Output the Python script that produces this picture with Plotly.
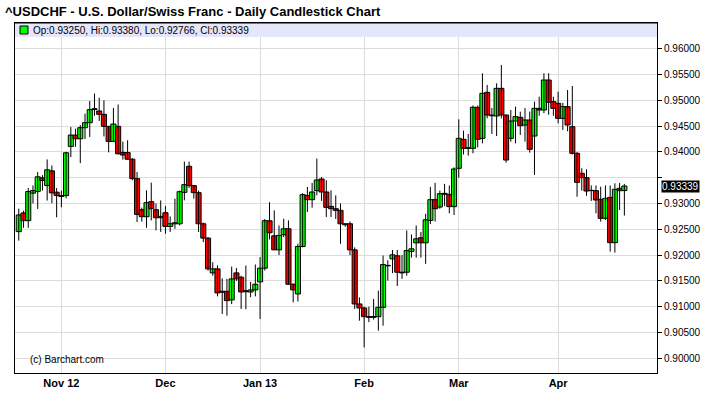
import plotly.graph_objects as go

# ---- data ----
opens = [0.92455, 0.92817, 0.92668, 0.93200, 0.93232, 0.93497, 0.93348, 0.93633, 0.93219, 0.93135,
         0.93154, 0.94106, 0.94326, 0.94255, 0.94469, 0.94566, 0.94819, 0.94793, 0.94728, 0.94495,
         0.94203, 0.94495, 0.93990, 0.93987, 0.93858, 0.93482, 0.92880, 0.92744, 0.93035, 0.92880,
         0.92724, 0.92821, 0.92556, 0.92607, 0.92607, 0.93216, 0.93721, 0.93346, 0.93210, 0.92607,
         0.92329, 0.91655, 0.91733, 0.91299, 0.91299, 0.91131, 0.91655, 0.91571, 0.91310, 0.91286,
         0.91325, 0.91481, 0.91746, 0.92666, 0.92374, 0.92102, 0.92394, 0.92510, 0.91435, 0.91247,
         0.92167, 0.93158, 0.93074, 0.93249, 0.93475, 0.93223, 0.92944, 0.92899, 0.92867, 0.92588,
         0.92607, 0.92102, 0.91053, 0.90975, 0.90807, 0.90794, 0.90807, 0.90988, 0.91791, 0.91927,
         0.91986, 0.91668, 0.91668, 0.92070, 0.92238, 0.92336, 0.92238, 0.92672, 0.93074, 0.92931,
         0.93178, 0.93178, 0.92939, 0.93682, 0.94244, 0.94069, 0.94069, 0.94864, 0.94263, 0.95154,
         0.94715, 0.94696, 0.95232, 0.94715, 0.94263, 0.94599, 0.94670, 0.94521, 0.94618, 0.94308,
         0.94844, 0.94812, 0.95393, 0.94974, 0.94941, 0.94650, 0.94877, 0.94489, 0.93972, 0.93585,
         0.93501, 0.93255, 0.93249, 0.93081, 0.92713, 0.93119, 0.92241, 0.93294, 0.93250]
highs = [0.92900, 0.92860, 0.93300, 0.93350, 0.93608, 0.93550, 0.93854, 0.93737, 0.93300, 0.93250,
         0.94000, 0.94482, 0.94450, 0.94520, 0.94741, 0.94987, 0.95130, 0.95050, 0.95000, 0.94500,
         0.94850, 0.94920, 0.94200, 0.94227, 0.93880, 0.93611, 0.92920, 0.93255, 0.93404, 0.93000,
         0.93061, 0.92950, 0.92750, 0.93093, 0.93250, 0.93812, 0.93812, 0.93360, 0.93250, 0.92630,
         0.92350, 0.91863, 0.91800, 0.91550, 0.91539, 0.91778, 0.91750, 0.91600, 0.91798, 0.91480,
         0.91818, 0.91960, 0.92700, 0.93026, 0.92867, 0.92575, 0.92705, 0.92673, 0.91450, 0.92220,
         0.93200, 0.93320, 0.93400, 0.93870, 0.93514, 0.93450, 0.93255, 0.93158, 0.93000, 0.92620,
         0.92650, 0.92150, 0.91180, 0.91000, 0.91000, 0.91150, 0.91312, 0.91992, 0.91900, 0.92100,
         0.92100, 0.92000, 0.92478, 0.92400, 0.92575, 0.92450, 0.92800, 0.93320, 0.93400, 0.93250,
         0.93380, 0.93350, 0.93700, 0.94631, 0.94412, 0.94347, 0.94900, 0.94900, 0.95523, 0.95297,
         0.94850, 0.95329, 0.95684, 0.94720, 0.94812, 0.94877, 0.94780, 0.94850, 0.94780, 0.94973,
         0.95070, 0.95523, 0.95523, 0.95070, 0.95167, 0.94950, 0.95200, 0.95277, 0.94000, 0.93682,
         0.93663, 0.93350, 0.93350, 0.93326, 0.93350, 0.93350, 0.93391, 0.93400, 0.93380]
lows = [0.92280, 0.92530, 0.92530, 0.93000, 0.92895, 0.93250, 0.93057, 0.93005, 0.92733, 0.92927,
        0.93100, 0.93900, 0.94100, 0.93782, 0.94250, 0.94288, 0.94700, 0.94600, 0.94300, 0.93991,
        0.94200, 0.93950, 0.93850, 0.93850, 0.93449, 0.92640, 0.92650, 0.92530, 0.92672, 0.92478,
        0.92450, 0.92413, 0.92450, 0.92510, 0.92575, 0.93061, 0.93300, 0.93093, 0.92446, 0.92251,
        0.91700, 0.91600, 0.91200, 0.90860, 0.90826, 0.91050, 0.91500, 0.90956, 0.90950, 0.91183,
        0.91200, 0.90762, 0.91700, 0.92303, 0.92100, 0.92000, 0.92350, 0.91430, 0.91085, 0.91100,
        0.92150, 0.92834, 0.92920, 0.93158, 0.93050, 0.92737, 0.92737, 0.92700, 0.92219, 0.92550,
        0.92000, 0.90956, 0.90729, 0.90211, 0.90700, 0.90750, 0.90535, 0.90632, 0.91506, 0.91650,
        0.91400, 0.91539, 0.91600, 0.91950, 0.91950, 0.91950, 0.91830, 0.92600, 0.92650, 0.92900,
        0.92950, 0.92809, 0.92777, 0.93500, 0.93950, 0.93927, 0.93973, 0.94088, 0.94166, 0.94651,
        0.94347, 0.94308, 0.94650, 0.93791, 0.94198, 0.94166, 0.94328, 0.94200, 0.93985, 0.93553,
        0.94700, 0.94750, 0.94720, 0.94700, 0.94554, 0.94425, 0.94400, 0.93950, 0.93132, 0.93250,
        0.93150, 0.93050, 0.92810, 0.92648, 0.92680, 0.92067, 0.92048, 0.92874, 0.92766]
closes = [0.92778, 0.92668, 0.93232, 0.93250, 0.93517, 0.93446, 0.93653, 0.93206, 0.93154, 0.93154,
          0.93983, 0.94326, 0.94255, 0.94469, 0.94566, 0.94819, 0.94838, 0.94728, 0.94495, 0.94203,
          0.94540, 0.93964, 0.93940, 0.93858, 0.93482, 0.92789, 0.92744, 0.93016, 0.92899, 0.92724,
          0.92750, 0.92556, 0.92607, 0.92627, 0.93229, 0.93365, 0.93346, 0.93210, 0.92607, 0.92329,
          0.91733, 0.91733, 0.91267, 0.91280, 0.91118, 0.91539, 0.91539, 0.91286, 0.91290, 0.91325,
          0.91435, 0.91746, 0.92666, 0.92433, 0.92102, 0.92381, 0.92510, 0.91435, 0.91325, 0.92167,
          0.93171, 0.93074, 0.93223, 0.93456, 0.93223, 0.92925, 0.92899, 0.92867, 0.92607, 0.92607,
          0.92102, 0.91053, 0.90975, 0.90807, 0.90794, 0.90810, 0.90988, 0.91817, 0.91800, 0.92005,
          0.91668, 0.91655, 0.92089, 0.92122, 0.92316, 0.92238, 0.92685, 0.93074, 0.92899, 0.93190,
          0.93197, 0.92939, 0.93669, 0.94263, 0.94069, 0.94080, 0.94864, 0.94244, 0.95135, 0.94715,
          0.94700, 0.95232, 0.94715, 0.93843, 0.94599, 0.94683, 0.94508, 0.94618, 0.94050, 0.94844,
          0.94812, 0.95393, 0.94961, 0.94844, 0.94650, 0.94877, 0.94521, 0.93972, 0.93410, 0.93501,
          0.93242, 0.93249, 0.93068, 0.92713, 0.93100, 0.92241, 0.93275, 0.93249, 0.93339]

bar_index = list(range(len(closes)))
month_tick_index = [9, 31, 51, 73, 93, 114]
month_tick_labels = ["Nov 12", "Dec", "Jan 13", "Feb", "Mar", "Apr"]
price_ticks = [0.900, 0.905, 0.910, 0.915, 0.920, 0.925, 0.930, 0.935, 0.940, 0.945, 0.950, 0.955, 0.960]
price_tick_labels = ["0.90000", "0.90500", "0.91000", "0.91500", "0.92000", "0.92500", "0.93000", "",
                     "0.94000", "0.94500", "0.95000", "0.95500", "0.96000"]
last_open, last_high, last_low, last_close = 0.93250, 0.93380, 0.92766, 0.93339

title_text = "^USDCHF - U.S. Dollar/Swiss Franc - Daily Candlestick Chart"

FONT = "Liberation Sans, Arial, sans-serif"
W, H = 708, 396
L, R, T, B = 15, 657, 23, 373

def px_x(p):
    return (p - L) / (R - L)

def px_y(p):
    return (B - p) / (B - T)

# wicks (high-low lines), drawn under the bodies
wick_x, wick_y = [], []
for i, hi, lo in zip(bar_index, highs, lows):
    wick_x += [i, i, None]
    wick_y += [lo, hi, None]

body_base = [min(o, c) for o, c in zip(opens, closes)]
body_len = [max(abs(c - o), 0.00003) for o, c in zip(opens, closes)]
body_col = ["#00FF00" if c >= o else "#FF0000" for o, c in zip(opens, closes)]

fig = go.Figure()
fig.add_trace(go.Scatter(x=wick_x, y=wick_y, mode="lines",
                         line=dict(color="black", width=1), hoverinfo="skip", showlegend=False))
fig.add_trace(go.Bar(x=bar_index, y=body_len, base=body_base, width=1.08,
                     marker=dict(color=body_col, line=dict(color="black", width=1)),
                     showlegend=False, hoverinfo="skip"))

fig.update_layout(
    width=W, height=H,
    margin=dict(l=L, r=W - R, t=T, b=H - B, pad=0, autoexpand=False),
    paper_bgcolor="white", plot_bgcolor="white",
    barmode="overlay",
    font=dict(family=FONT, size=10, color="black"),
    title=dict(text=title_text, x=5 / W, xanchor="left", xref="container",
               y=1 - 11 / H, yanchor="middle", yref="container", automargin=False,
               font=dict(family=FONT, size=13, color="black", weight="bold")),
    showlegend=False,
)

fig.update_xaxes(
    range=[-0.8, 134.9], tickmode="array", tickvals=month_tick_index, ticktext=month_tick_labels,
    showgrid=True, gridcolor="#DCDCDC", gridwidth=1, zeroline=False, automargin=False,
    showline=True, linecolor="black", linewidth=1, mirror=True, ticks="",
    tickfont=dict(family=FONT, size=11, color="black", weight="bold"),
)
fig.update_yaxes(
    range=[0.89715, 0.96498], side="right", tickmode="array",
    tickvals=price_ticks, ticktext=price_tick_labels, automargin=False,
    showgrid=True, gridcolor="#DCDCDC", gridwidth=1, zeroline=False,
    showline=True, linecolor="black", linewidth=1, mirror=True,
    ticks="outside", ticklen=4, tickcolor="black",
    tickfont=dict(family=FONT, size=10, color="black"),
)

# legend band
fig.add_shape(type="rect", xref="paper", yref="paper", x0=0, x1=1, y0=px_y(37), y1=1,
              fillcolor="#E6E6FA", line=dict(width=0), layer="above")
fig.add_shape(type="line", xref="paper", yref="paper", x0=0, x1=1, y0=1, y1=1,
              line=dict(color="black", width=1), layer="above")
fig.add_shape(type="rect", xref="paper", yref="paper",
              x0=px_x(20), x1=px_x(28), y0=px_y(34), y1=px_y(26),
              fillcolor="#00FF00", line=dict(color="black", width=1), layer="above")
fig.add_annotation(
    xref="paper", yref="paper", x=px_x(31), y=px_y(30.5), xanchor="left", yanchor="middle",
    text=f"Op:{last_open:.5f}, Hi:{last_high:.5f}, Lo:{last_low:.5f}, Cl:{last_close:.5f}",
    showarrow=False, font=dict(family=FONT, size=10, color="black"),
)
fig.add_annotation(
    xref="paper", yref="y", x=1, y=last_close, xanchor="left", yanchor="middle", xshift=4,
    text=f"{last_close:.5f}", showarrow=False, bgcolor="black", borderpad=0,
    font=dict(family=FONT, size=10, color="white"),
)
fig.add_annotation(
    xref="paper", yref="paper", x=px_x(28), y=px_y(359), xanchor="left", yanchor="middle",
    text="(c) Barchart.com", showarrow=False, font=dict(family=FONT, size=10, color="black"),
)

fig.write_html("out.html", config={"displayModeBar": False},
               post_script="document.body.style.margin='0';document.body.style.padding='0';")
